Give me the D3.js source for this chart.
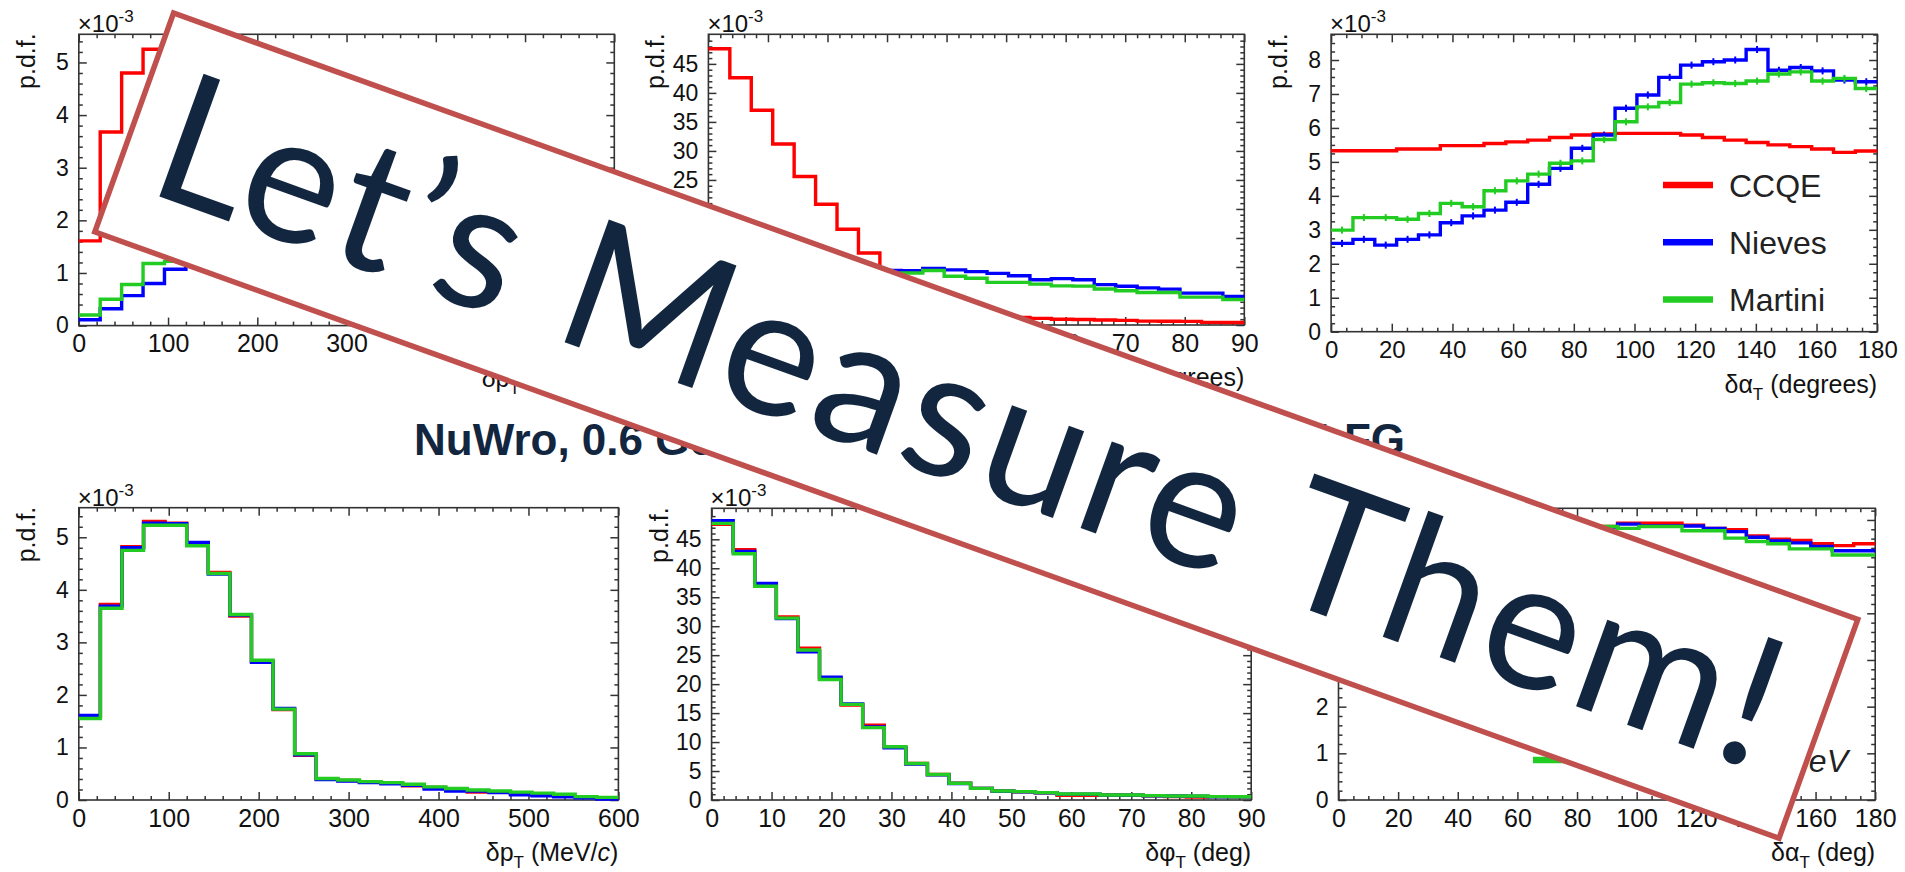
<!DOCTYPE html>
<html>
<head>
<meta charset="utf-8">
<title>Transverse kinematic imbalance</title>
<script src="https://cdn.jsdelivr.net/npm/d3@7/dist/d3.min.js"></script>
<style>
  html, body { margin: 0; padding: 0; background: #fff; overflow: hidden; }
  svg { display: block; }
</style>
</head>
<body>
<svg id="chart" width="1905" height="872"></svg>
<script>
// ---------- binning and axis ticks ----------
const nBins = 25;
const dpTRange = [0, 600];      // MeV/c
const dphiTRange = [0, 90];     // degrees
const dalphaTRange = [0, 180];  // degrees

const dpTTicks = [0, 100, 200, 300, 400, 500, 600];
const dphiTTicks = [0, 10, 20, 30, 40, 50, 60, 70, 80, 90];
const dalphaTTicks = [0, 20, 40, 60, 80, 100, 120, 140, 160, 180];
const pdfTicksDpT = [0, 1, 2, 3, 4, 5];
const pdfTicksDphiT = [0, 5, 10, 15, 20, 25, 30, 35, 40, 45];
const pdfTicksDalphaTop = [0, 1, 2, 3, 4, 5, 6, 7, 8];
const pdfTicksDalphaBottom = [0, 1, 2, 3, 4, 5, 6];

// ---------- top row: CCQE and two 2p2h models (p.d.f. in units of 1e-3) ----------
const topModels = ["CCQE", "Nieves", "Martini"];

const topDpTCCQE    = [1.61, 3.68, 4.80, 5.25, 5.24, 4.85, 4.30, 3.50, 2.65, 1.72, 0.87, 0.40, 0.37, 0.35, 0.32, 0.29, 0.26, 0.23, 0.20, 0.17, 0.14, 0.12, 0.09, 0.07, 0.05];
const topDpTNieves  = [0.11, 0.32, 0.57, 0.80, 1.07, 1.25, 1.38, 1.45, 1.48, 1.46, 1.40, 1.30, 1.18, 1.05, 0.92, 0.80, 0.68, 0.58, 0.48, 0.40, 0.33, 0.27, 0.22, 0.18, 0.14];
const topDpTMartini = [0.20, 0.50, 0.78, 1.18, 1.22, 1.42, 1.50, 1.52, 1.48, 1.40, 1.30, 1.18, 1.06, 0.94, 0.82, 0.71, 0.61, 0.52, 0.44, 0.37, 0.31, 0.26, 0.21, 0.17, 0.14];

const topDphiTCCQE    = [47.6, 42.6, 37.0, 31.2, 25.6, 20.8, 16.5, 12.4, 9.0, 6.2, 4.2, 2.9, 2.1, 1.6, 1.30, 1.15, 1.00, 0.95, 0.85, 0.80, 0.67, 0.65, 0.62, 0.45, 0.42];
const topDphiTNieves  = [7.6, 8.0, 8.4, 8.7, 8.9, 9.1, 9.25, 9.35, 9.40, 9.35, 9.73, 9.50, 9.20, 8.90, 8.50, 7.80, 8.00, 7.80, 6.95, 6.68, 6.40, 6.18, 5.50, 5.50, 4.90];
const topDphiTMartini = [7.2, 7.6, 8.0, 8.3, 8.5, 8.7, 8.8, 8.85, 8.90, 8.95, 9.40, 8.40, 8.05, 7.35, 7.35, 7.05, 6.75, 6.70, 6.20, 5.90, 5.60, 5.60, 4.80, 4.80, 4.40];

const topDalphaTCCQE    = [5.33, 5.33, 5.33, 5.38, 5.38, 5.48, 5.48, 5.54, 5.59, 5.64, 5.72, 5.79, 5.82, 5.84, 5.84, 5.84, 5.79, 5.72, 5.64, 5.57, 5.50, 5.45, 5.38, 5.28, 5.32];
const topDalphaTNieves  = [2.60, 2.72, 2.55, 2.72, 2.85, 3.21, 3.41, 3.58, 3.81, 4.34, 4.81, 5.40, 5.79, 6.58, 6.97, 7.49, 7.85, 7.95, 8.00, 8.31, 7.70, 7.78, 7.68, 7.41, 7.36];
const topDalphaTMartini = [2.99, 3.36, 3.36, 3.31, 3.48, 3.78, 3.68, 4.15, 4.44, 4.64, 4.96, 5.03, 5.66, 6.18, 6.62, 6.75, 7.29, 7.33, 7.31, 7.38, 7.59, 7.65, 7.38, 7.46, 7.16];

// ---------- bottom row: NuWro at three neutrino energies ----------
const nuwroEnergies = ["1 GeV", "3 GeV", "10 GeV"];

const nuwroDpT1  = [1.58, 3.72, 4.82, 5.30, 5.27, 4.88, 4.33, 3.50, 2.64, 1.72, 0.85, 0.40, 0.37, 0.34, 0.32, 0.27, 0.24, 0.21, 0.15, 0.16, 0.11, 0.10, 0.07, 0.05, 0.04];
const nuwroDpT3  = [1.61, 3.69, 4.80, 5.27, 5.26, 4.90, 4.30, 3.52, 2.62, 1.74, 0.86, 0.39, 0.36, 0.33, 0.31, 0.28, 0.21, 0.17, 0.17, 0.14, 0.10, 0.08, 0.06, 0.04, 0.02];
const nuwroDpT10 = [1.55, 3.65, 4.75, 5.23, 5.23, 4.84, 4.31, 3.53, 2.66, 1.73, 0.88, 0.41, 0.38, 0.35, 0.33, 0.30, 0.25, 0.22, 0.19, 0.17, 0.15, 0.13, 0.11, 0.065, 0.05];

const nuwroDphiT1  = [47.6, 43.2, 37.1, 31.6, 26.2, 20.9, 16.4, 12.9, 9.1, 6.3, 4.4, 2.9, 2.0, 1.55, 1.42, 1.25, 0.80, 0.80, 0.86, 0.84, 0.74, 0.60, 0.50, 0.58, 0.55];
const nuwroDphiT3  = [48.2, 42.9, 37.4, 31.3, 25.6, 21.2, 16.6, 12.6, 9.0, 6.2, 4.35, 2.85, 2.0, 1.50, 1.40, 1.25, 1.02, 1.00, 0.85, 0.85, 0.74, 0.68, 0.67, 0.56, 0.54];
const nuwroDphiT10 = [47.75, 42.5, 36.9, 31.4, 25.9, 20.8, 16.5, 12.5, 9.2, 6.3, 4.4, 2.88, 2.0, 1.55, 1.44, 1.27, 1.04, 1.04, 0.86, 0.86, 0.75, 0.69, 0.69, 0.58, 0.55];

const nuwroDalphaT1  = [5.35, 5.36, 5.38, 5.40, 5.43, 5.46, 5.50, 5.55, 5.60, 5.66, 5.72, 5.80, 5.86, 5.93, 5.93, 5.93, 5.89, 5.82, 5.79, 5.66, 5.59, 5.56, 5.49, 5.45, 5.49];
const nuwroDalphaT3  = [5.33, 5.35, 5.37, 5.40, 5.42, 5.46, 5.50, 5.55, 5.60, 5.66, 5.74, 5.80, 5.85, 5.91, 5.87, 5.87, 5.87, 5.82, 5.75, 5.63, 5.55, 5.51, 5.43, 5.34, 5.34];
const nuwroDalphaT10 = [5.36, 5.38, 5.40, 5.42, 5.45, 5.48, 5.52, 5.57, 5.62, 5.68, 5.80, 5.82, 5.86, 5.82, 5.86, 5.86, 5.77, 5.77, 5.61, 5.54, 5.49, 5.38, 5.38, 5.25, 5.25];

const lineColours = ["#ff0000", "#0000ff", "#22cc22"];
const ink = "#13263f";
const axisInk = "#333";
const fontSans = "'Liberation Sans', Arial, Helvetica, sans-serif";

const svg = d3.select("#chart");

// ---------- panel layout ----------
const panels = [
  { left: 78.8, right: 614.3, top: 34.3, bottom: 325.6, xRange: dpTRange, yMax: 5.535,
    xTicks: dpTTicks, yTicks: pdfTicksDpT, xSub: 5, ySub: 5, xFont: 25, yFont: 23,
    series: [topDpTCCQE, topDpTNieves, topDpTMartini], xTitle: ["δp", "T", " (MeV/", "c", ")"] },
  { left: 708.4, right: 1244.3, top: 34.3, bottom: 325.0, xRange: dphiTRange, yMax: 50.1,
    xTicks: dphiTTicks, yTicks: pdfTicksDphiT, xSub: 5, ySub: 5, xFont: 25, yFont: 23,
    series: [topDphiTCCQE, topDphiTNieves, topDphiTMartini], xTitle: ["δφ", "T", " (degrees)"] },
  { left: 1331.1, right: 1877.2, top: 34.3, bottom: 331.7, xRange: dalphaTRange, yMax: 8.757,
    xTicks: dalphaTTicks, yTicks: pdfTicksDalphaTop, xSub: 4, ySub: 4, xFont: 24, yFont: 23,
    series: [topDalphaTCCQE, topDalphaTNieves, topDalphaTMartini], xTitle: ["δα", "T", " (degrees)"],
    markers: true, legend: { names: topModels, x: 1663, y: 185, dy: 57.2 } },
  { left: 78.8, right: 618.4, top: 507.7, bottom: 800, xRange: dpTRange, yMax: 5.563,
    xTicks: dpTTicks, yTicks: pdfTicksDpT, xSub: 5, ySub: 5, xFont: 25, yFont: 23,
    series: [nuwroDpT1, nuwroDpT3, nuwroDpT10], xTitle: ["δp", "T", " (MeV/", "c", ")"] },
  { left: 711.6, right: 1251.2, top: 508.3, bottom: 800, xRange: dphiTRange, yMax: 50.35,
    xTicks: dphiTTicks, yTicks: pdfTicksDphiT, xSub: 5, ySub: 5, xFont: 25, yFont: 23,
    series: [nuwroDphiT1, nuwroDphiT3, nuwroDphiT10], xTitle: ["δφ", "T", " (deg)"] },
  { left: 1338.5, right: 1875.2, top: 508.3, bottom: 800, xRange: dalphaTRange, yMax: 6.25,
    xTicks: dalphaTTicks, yTicks: pdfTicksDalphaBottom, xSub: 4, ySub: 5, xFont: 25, yFont: 23,
    series: [nuwroDalphaT1, nuwroDalphaT3, nuwroDalphaT10], xTitle: ["δα", "T", " (deg)"],
    energyLegend: { labels: nuwroEnergies, x: 1533, y: 646, dy: 57, textRight: 1848 } }
];

function minorTicks(ticks, sub, max) {
  const step = (ticks[1] - ticks[0]) / sub;
  const out = [];
  for (let k = 0; ; k++) {
    const v = ticks[0] + k * step;
    if (v > max + 1e-9) break;
    if (k % sub !== 0) out.push(v);
  }
  return out;
}

function styleAxis(sel, fontSize) {
  sel.select(".domain").remove();
  sel.selectAll("line").attr("stroke", axisInk).attr("stroke-width", 1.5);
  sel.selectAll("text")
    .attr("font-size", fontSize)
    .attr("font-family", fontSans)
    .attr("fill", "#111");
}

function drawPanel(p) {
  const g = svg.append("g");
  const x = d3.scaleLinear().domain(p.xRange).range([p.left, p.right]);
  const y = d3.scaleLinear().domain([0, p.yMax]).range([p.bottom, p.top]);
  const xMinor = minorTicks(p.xTicks, p.xSub, p.xRange[1]);
  const yMinor = minorTicks(p.yTicks, p.ySub, p.yMax);
  const fmt = d3.format("d");

  // bottom axis with labels, top axis mirrored without labels
  g.append("g").attr("transform", `translate(0,${p.bottom})`)
    .call(d3.axisBottom(x).tickValues(p.xTicks).tickSizeInner(-8).tickSizeOuter(0).tickPadding(9).tickFormat(fmt))
    .call(styleAxis, p.xFont);
  g.append("g").attr("transform", `translate(0,${p.bottom})`)
    .call(d3.axisBottom(x).tickValues(xMinor).tickSizeInner(-4).tickSizeOuter(0).tickFormat(""))
    .call(styleAxis, p.xFont);
  g.append("g").attr("transform", `translate(0,${p.top})`)
    .call(d3.axisTop(x).tickValues(p.xTicks).tickSizeInner(-8).tickSizeOuter(0).tickFormat(""))
    .call(styleAxis, p.xFont);
  g.append("g").attr("transform", `translate(0,${p.top})`)
    .call(d3.axisTop(x).tickValues(xMinor).tickSizeInner(-4).tickSizeOuter(0).tickFormat(""))
    .call(styleAxis, p.xFont);

  // left axis with labels, right axis mirrored without labels
  g.append("g").attr("transform", `translate(${p.left},0)`)
    .call(d3.axisLeft(y).tickValues(p.yTicks).tickSizeInner(-8).tickSizeOuter(0).tickPadding(10).tickFormat(fmt))
    .call(styleAxis, p.yFont);
  g.append("g").attr("transform", `translate(${p.left},0)`)
    .call(d3.axisLeft(y).tickValues(yMinor).tickSizeInner(-4).tickSizeOuter(0).tickFormat(""))
    .call(styleAxis, p.yFont);
  g.append("g").attr("transform", `translate(${p.right},0)`)
    .call(d3.axisRight(y).tickValues(p.yTicks).tickSizeInner(-8).tickSizeOuter(0).tickFormat(""))
    .call(styleAxis, p.yFont);
  g.append("g").attr("transform", `translate(${p.right},0)`)
    .call(d3.axisRight(y).tickValues(yMinor).tickSizeInner(-4).tickSizeOuter(0).tickFormat(""))
    .call(styleAxis, p.yFont);

  // frame
  g.append("rect")
    .attr("x", p.left).attr("y", p.top)
    .attr("width", p.right - p.left).attr("height", p.bottom - p.top)
    .attr("fill", "none").attr("stroke", axisInk).attr("stroke-width", 1.6);

  // histograms
  const edges = d3.range(nBins + 1).map(i => p.xRange[0] + i * (p.xRange[1] - p.xRange[0]) / nBins);
  const line = d3.line().x(d => x(d[0])).y(d => y(d[1])).curve(d3.curveStepAfter);
  p.series.forEach((vals, s) => {
    const pts = vals.map((v, i) => [edges[i], v]);
    pts.push([edges[nBins], vals[nBins - 1]]);
    g.append("path")
      .attr("d", line(pts))
      .attr("fill", "none")
      .attr("stroke", lineColours[s])
      .attr("stroke-width", 3.4)
      .attr("stroke-linejoin", "miter");
    if (p.markers && s > 0) {
      g.append("g").selectAll("line").data(vals).join("line")
        .attr("x1", (v, i) => x((edges[i] + edges[i + 1]) / 2))
        .attr("x2", (v, i) => x((edges[i] + edges[i + 1]) / 2))
        .attr("y1", v => y(v) - 3.5).attr("y2", v => y(v) + 3.5)
        .attr("stroke", lineColours[s]).attr("stroke-width", 2);
    }
  });

  // y-axis title and exponent
  g.append("text")
    .attr("transform", `translate(${p.left - 44},${p.top - 1}) rotate(-90)`)
    .attr("text-anchor", "end")
    .attr("font-family", fontSans).attr("font-size", 25).attr("fill", "#111")
    .text("p.d.f.");
  const ex = g.append("text")
    .attr("x", p.left - 1).attr("y", p.top - 2)
    .attr("font-family", fontSans).attr("font-size", 24).attr("fill", "#111");
  ex.append("tspan").text("×10");
  ex.append("tspan").attr("font-size", 17).attr("dy", -10).text("-3");

  // x-axis title, right-aligned at the frame edge
  const xt = g.append("text")
    .attr("x", p.right).attr("y", p.bottom + 61)
    .attr("text-anchor", "end")
    .attr("font-family", fontSans).attr("font-size", 25).attr("fill", "#111");
  xt.append("tspan").text(p.xTitle[0]);
  xt.append("tspan").attr("font-size", 17).attr("dy", 7).text(p.xTitle[1]);
  xt.append("tspan").attr("dy", -7).text(p.xTitle[2]);
  if (p.xTitle.length > 3) {
    xt.append("tspan").attr("font-style", "italic").text(p.xTitle[3]);
    xt.append("tspan").text(p.xTitle[4]);
  }

  // model legend
  if (p.legend) {
    p.legend.names.forEach((name, i) => {
      const ly = p.legend.y + i * p.legend.dy;
      g.append("line")
        .attr("x1", p.legend.x).attr("x2", p.legend.x + 50)
        .attr("y1", ly).attr("y2", ly)
        .attr("stroke", lineColours[i]).attr("stroke-width", 6.5);
      g.append("text")
        .attr("x", p.legend.x + 66).attr("y", ly + 12)
        .attr("font-family", fontSans).attr("font-size", 32).attr("fill", "#222")
        .text(name);
    });
  }

  // neutrino-energy legend
  if (p.energyLegend) {
    const L = p.energyLegend;
    const rows = L.labels.map((lab, i) => {
      const ly = L.y + i * L.dy;
      g.append("line")
        .attr("x1", L.x).attr("x2", L.x + 55)
        .attr("y1", ly).attr("y2", ly)
        .attr("stroke", lineColours[i]).attr("stroke-width", 6.5);
      const t = g.append("text")
        .attr("y", ly + 12)
        .attr("font-family", fontSans).attr("font-size", 32)
        .attr("font-style", "italic").attr("fill", "#222");
      t.append("tspan").text("E");
      t.append("tspan").attr("font-size", 21).attr("dy", 7).text("ν");
      t.append("tspan").attr("dy", -7).text(" = " + lab);
      return t;
    });
    // left-align every row on the widest (last) label, which ends at textRight
    const widest = rows[rows.length - 1].node().getComputedTextLength();
    rows.forEach(t => t.attr("x", L.textRight - widest));
  }
}

panels.forEach(drawPanel);

// ---------- row title ----------
const title = svg.append("text")
  .attr("x", 414).attr("y", 455)
  .attr("font-family", fontSans).attr("font-size", 44).attr("font-weight", "bold")
  .attr("fill", ink);
title.append("tspan").text("NuWro, 0.6 GeV–10 GeV ν");
title.append("tspan").attr("font-size", 30).attr("dy", 9).text("μ");
title.append("tspan").attr("dy", -9).text(" CCQE,");
title.append("tspan").attr("x", 1405).attr("text-anchor", "end").text("LFG");

// ---------- slanted banner ----------
const banner = svg.append("g")
  .attr("transform", "translate(976.3,425.6) rotate(19.8)");
banner.append("rect")
  .attr("x", -895).attr("y", -116.25)
  .attr("width", 1790).attr("height", 232.5)
  .attr("fill", "#fff")
  .attr("stroke", "#c0504d").attr("stroke-width", 5.5);
banner.append("text")
  .attr("x", -7).attr("y", 61)
  .attr("text-anchor", "middle")
  .attr("font-family", "Lato, 'Open Sans', sans-serif")
  .attr("font-size", 182)
  .attr("fill", ink)
  .attr("textLength", 1712)
  .attr("lengthAdjust", "spacing")
  .text("Let’s Measure Them!");
</script>
</body>
</html>
